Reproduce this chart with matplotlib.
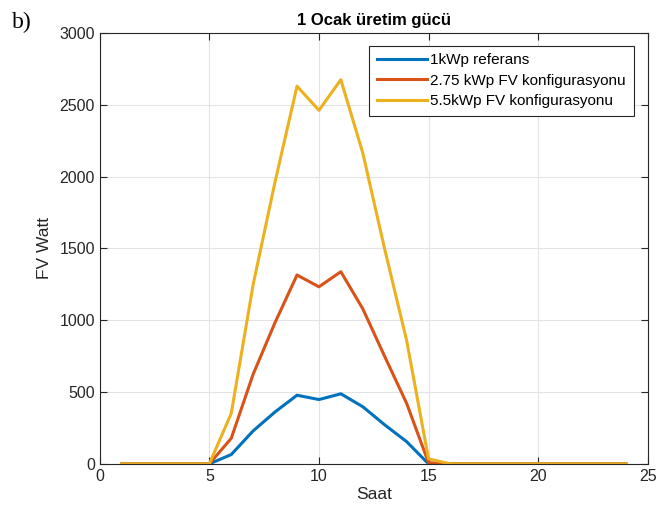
import matplotlib
matplotlib.use("Agg")
import matplotlib.pyplot as plt

hours = list(range(1, 25))
ref_1kwp = [0, 0, 0, 0, 0, 65, 230, 362, 478, 448, 488, 398, 272, 155, 0, 0, 0, 0, 0, 0, 0, 0, 0, 0]
fv_275 = [0, 0, 0, 0, 0, 178, 625, 985, 1315, 1233, 1338, 1080, 748, 422, 8, 0, 0, 0, 0, 0, 0, 0, 0, 0]
fv_55 = [0, 0, 0, 0, 0, 352, 1250, 1965, 2630, 2462, 2675, 2165, 1495, 860, 35, 0, 0, 0, 0, 0, 0, 0, 0, 0]
labels = ["1kWp referans", "2.75 kWp FV konfigurasyonu", "5.5kWp FV konfigurasyonu"]
colors = ["#0072BD", "#D95319", "#EDB120"]

plt.rcParams['font.family'] = ['Liberation Sans', 'DejaVu Sans']
fig = plt.figure(figsize=(6.65, 5.16), dpi=100)
ax = fig.add_axes([0.150, 0.101, 0.824, 0.835])

for y, lab, c in zip([ref_1kwp, fv_275, fv_55], labels, colors):
    ax.plot(hours, y, color=c, lw=2.2, label=lab)

ax.set_xlim(0, 25)
ax.set_ylim(0, 3000)
ax.set_xticks([0, 5, 10, 15, 20, 25])
ax.set_yticks([0, 500, 1000, 1500, 2000, 2500, 3000])
ax.grid(True, color="#e3e3e3", lw=0.8)
ax.set_axisbelow(True)
ax.tick_params(direction="in", top=True, right=True, labelsize=11.5, color="#262626", labelcolor="#262626", length=5)
for s in ax.spines.values():
    s.set_color("#262626")
    s.set_linewidth(0.8)
ax.set_xlabel("Saat", fontsize=12.5, color="#262626", labelpad=2)
ax.set_ylabel("FV Watt", fontsize=12.5, color="#262626", labelpad=5)
ax.set_title("1 Ocak üretim gücü", fontsize=12, fontweight="bold", pad=6)

leg = ax.legend(loc="upper right", bbox_to_anchor=(0.98, 0.978), fontsize=11,
                fancybox=False, edgecolor="#262626", framealpha=1,
                handlelength=3.3, borderpad=0.5, labelspacing=0.42, handletextpad=0.2,
                borderaxespad=0.2)
leg.get_frame().set_linewidth(0.8)

fig.text(0.018, 0.945, "b)", fontsize=17, family="Liberation Serif")

fig.savefig("out.png", dpi=100)
